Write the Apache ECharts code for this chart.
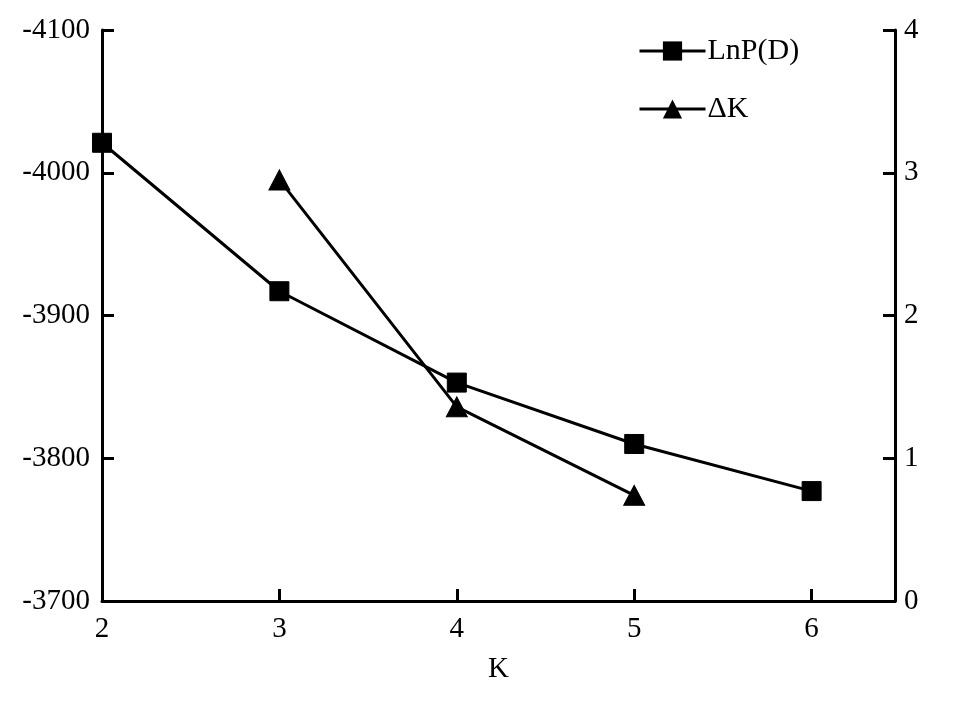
<!DOCTYPE html>
<html><head><meta charset="utf-8">
<script src="https://cdn.jsdelivr.net/npm/echarts@6/dist/echarts.min.js"></script>
<style>html,body{margin:0;padding:0;background:#fff}#c{width:967px;height:704px}</style>
</head><body><div id="c"></div>
<script>
const kValues = [2, 3, 4, 5, 6];
const lnPD = [-4021, -3917, -3853, -3810, -3777];
const deltaKValues = [3, 4, 5];
const deltaK = [2.95, 1.36, 0.74];
const leftTicks = [-4100, -4000, -3900, -3800, -3700];
const rightTicks = [0, 1, 2, 3, 4];

const font = 'Liberation Serif';
const axisCommon = {
  axisLine: {show: true, lineStyle: {color: '#000', width: 3}},
  axisTick: {show: true, inside: true, length: 12, lineStyle: {color: '#000', width: 3}},
  axisLabel: {color: '#000', fontFamily: font, fontSize: 29, formatter: v => String(v)},
  splitLine: {show: false}
};
const chart = echarts.init(document.getElementById('c'));
chart.setOption({
  animation: false,
  backgroundColor: '#fff',
  grid: {left: 102, right: 72, top: 30, bottom: 103, containLabel: false},
  legend: {
    orient: 'vertical', left: 633, top: 31, itemGap: 28,
    itemWidth: 66, itemHeight: 24,
    lineStyle: {width: 3},
    textStyle: {color: '#000', fontFamily: font, fontSize: 30, padding: [0,0,0,-3]},
    data: ['LnP(D)', 'ΔK']
  },
  xAxis: Object.assign({}, axisCommon, {
    type: 'value', min: 2, max: 6.47, interval: 1,
    name: 'K', nameLocation: 'middle', nameGap: 54,
    nameTextStyle: {color: '#000', fontFamily: font, fontSize: 29},
    axisLabel: Object.assign({}, axisCommon.axisLabel, {margin: 14, showMaxLabel: false,
      formatter: v => Number.isInteger(v) ? String(v) : ''})
  }),
  yAxis: [
    Object.assign({}, axisCommon, {
      type: 'value', min: leftTicks[0], max: leftTicks[leftTicks.length-1], interval: 100, inverse: true,
      axisLabel: Object.assign({}, axisCommon.axisLabel, {margin: 12})
    }),
    Object.assign({}, axisCommon, {
      type: 'value', position: 'right', min: rightTicks[0], max: rightTicks[rightTicks.length-1], interval: 1,
      axisLabel: Object.assign({}, axisCommon.axisLabel, {margin: 9})
    })
  ],
  series: [
    {
      name: 'LnP(D)', type: 'line', yAxisIndex: 0,
      data: kValues.map((k, i) => [k, lnPD[i]]),
      symbol: 'rect', symbolSize: 19,
      lineStyle: {color: '#000', width: 3},
      itemStyle: {color: '#000', borderColor: '#000'}
    },
    {
      name: 'ΔK', type: 'line', yAxisIndex: 1,
      data: deltaKValues.map((k, i) => [k, deltaK[i]]),
      symbol: 'triangle', symbolSize: [21, 20],
      lineStyle: {color: '#000', width: 3},
      itemStyle: {color: '#000', borderColor: '#000'}
    }
  ]
});
</script></body></html>
